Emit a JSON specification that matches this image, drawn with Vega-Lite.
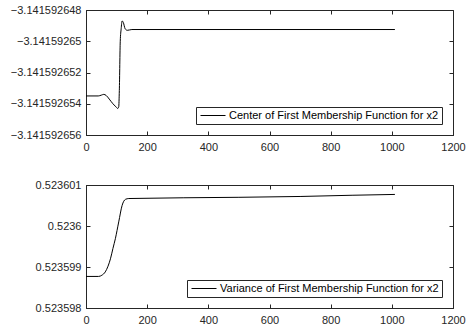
{
  "$schema": "https://vega.github.io/schema/vega-lite/v6.json",
  "padding": {"left": 9, "top": 3, "right": 5, "bottom": 5},
  "background": "white",
  "bounds": "flush",
  "spacing": 50,
  "datasets": {
    "top": [
      {"t": 0, "v": -3.1415926535, "s": "Center of First Membership Function for x2"},
      {"t": 40, "v": -3.1415926535, "s": "Center of First Membership Function for x2"},
      {"t": 50, "v": -3.14159265345, "s": "Center of First Membership Function for x2"},
      {"t": 58, "v": -3.1415926534, "s": "Center of First Membership Function for x2"},
      {"t": 66, "v": -3.14159265347, "s": "Center of First Membership Function for x2"},
      {"t": 76, "v": -3.1415926537, "s": "Center of First Membership Function for x2"},
      {"t": 88, "v": -3.141592654, "s": "Center of First Membership Function for x2"},
      {"t": 98, "v": -3.1415926542, "s": "Center of First Membership Function for x2"},
      {"t": 104, "v": -3.1415926543, "s": "Center of First Membership Function for x2"},
      {"t": 107, "v": -3.1415926542, "s": "Center of First Membership Function for x2"},
      {"t": 109, "v": -3.14159265315, "s": "Center of First Membership Function for x2"},
      {"t": 112, "v": -3.14159265, "s": "Center of First Membership Function for x2"},
      {"t": 115, "v": -3.1415926492, "s": "Center of First Membership Function for x2"},
      {"t": 118, "v": -3.1415926487, "s": "Center of First Membership Function for x2"},
      {"t": 122, "v": -3.1415926488, "s": "Center of First Membership Function for x2"},
      {"t": 128, "v": -3.1415926492, "s": "Center of First Membership Function for x2"},
      {"t": 135, "v": -3.1415926493, "s": "Center of First Membership Function for x2"},
      {"t": 150, "v": -3.14159264925, "s": "Center of First Membership Function for x2"},
      {"t": 1010, "v": -3.14159264925, "s": "Center of First Membership Function for x2"}
    ],
    "bottom": [
      {"t": 0, "v": 0.52359877, "s": "Variance of First Membership Function for x2"},
      {"t": 41, "v": 0.52359877, "s": "Variance of First Membership Function for x2"},
      {"t": 52, "v": 0.5235988, "s": "Variance of First Membership Function for x2"},
      {"t": 63, "v": 0.52359888, "s": "Variance of First Membership Function for x2"},
      {"t": 72, "v": 0.52359902, "s": "Variance of First Membership Function for x2"},
      {"t": 80, "v": 0.5235992, "s": "Variance of First Membership Function for x2"},
      {"t": 88, "v": 0.52359945, "s": "Variance of First Membership Function for x2"},
      {"t": 96, "v": 0.52359969, "s": "Variance of First Membership Function for x2"},
      {"t": 107, "v": 0.5236001, "s": "Variance of First Membership Function for x2"},
      {"t": 118, "v": 0.5236005, "s": "Variance of First Membership Function for x2"},
      {"t": 129, "v": 0.52360065, "s": "Variance of First Membership Function for x2"},
      {"t": 140, "v": 0.52360067, "s": "Variance of First Membership Function for x2"},
      {"t": 500, "v": 0.5236007, "s": "Variance of First Membership Function for x2"},
      {"t": 700, "v": 0.52360072, "s": "Variance of First Membership Function for x2"},
      {"t": 870, "v": 0.52360075, "s": "Variance of First Membership Function for x2"},
      {"t": 1010, "v": 0.52360077, "s": "Variance of First Membership Function for x2"}
    ]
  },
  "config": {
    "view": {"stroke": "#262626", "strokeWidth": 1},
    "font": "Liberation Sans",
    "axis": {
      "grid": false,
      "title": null,
      "domainColor": "#262626",
      "tickColor": "#262626",
      "tickWidth": 1,
      "labelColor": "#262626",
      "labelFont": "Liberation Sans",
      "labelFontSize": 11,
      "tickSize": 4,
      "labelOverlap": false,
      "labelFlush": false
    },
    "axisX": {"labelPadding": 6},
    "axisY": {"labelPadding": 5},
    "legend": {
      "orient": "bottom-right",
      "offset": 11,
      "title": null,
      "strokeColor": "#262626",
      "fillColor": "white",
      "padding": 3,
      "symbolType": "M-0.8,0L4.2,0",
      "symbolSize": 100,
      "symbolStrokeWidth": 1,
      "symbolStrokeColor": "black",
      "symbolFillColor": "transparent",
      "labelFont": "Liberation Sans",
      "labelFontSize": 11,
      "labelColor": "#000000",
      "labelOffset": 19,
      "labelLimit": 400
    }
  },
  "vconcat": [
    {
      "data": {"name": "top"},
      "width": 367,
      "height": 125,
      "layer": [
        {
          "mark": {"type": "line", "strokeWidth": 1, "interpolate": "monotone"},
          "encoding": {
            "x": {"field": "t", "type": "quantitative", "scale": {"domain": [0, 1200], "nice": false},
                  "axis": {"values": [0, 200, 400, 600, 800, 1000, 1200], "format": "d", "ticks": false}},
            "y": {"field": "v", "type": "quantitative", "scale": {"domain": [-3.141592656, -3.141592648], "zero": false, "nice": false},
                  "axis": {"values": [-3.141592656, -3.141592654, -3.141592652, -3.14159265, -3.141592648], "format": ".9~f", "ticks": false}},
            "color": {"field": "s", "type": "nominal", "scale": {"range": ["#000000"]}}
          }
        },
        {
          "mark": {"type": "line", "opacity": 0},
          "encoding": {
            "x": {"field": "t", "type": "quantitative", "scale": {"domain": [0, 1200], "nice": false},
                  "axis": {"orient": "top", "offset": -125, "labels": false, "domain": false, "values": [0, 200, 400, 600, 800, 1000, 1200]}},
            "y": {"field": "v", "type": "quantitative", "scale": {"domain": [-3.141592656, -3.141592648], "zero": false, "nice": false},
                  "axis": {"orient": "right", "offset": -367, "labels": false, "domain": false, "values": [-3.141592656, -3.141592654, -3.141592652, -3.14159265, -3.141592648]}}
          }
        },
        {
          "mark": {"type": "line", "opacity": 0},
          "encoding": {
            "x": {"field": "t", "type": "quantitative", "scale": {"domain": [0, 1200], "nice": false},
                  "axis": {"orient": "bottom", "offset": -125, "labels": false, "domain": false, "values": [0, 200, 400, 600, 800, 1000, 1200]}},
            "y": {"field": "v", "type": "quantitative", "scale": {"domain": [-3.141592656, -3.141592648], "zero": false, "nice": false},
                  "axis": {"orient": "left", "offset": -367, "labels": false, "domain": false, "values": [-3.141592656, -3.141592654, -3.141592652, -3.14159265, -3.141592648]}}
          }
        }
      ],
      "resolve": {"axis": {"x": "independent", "y": "independent"}}
    },
    {
      "data": {"name": "bottom"},
      "width": 367,
      "height": 123,
      "layer": [
        {
          "mark": {"type": "line", "strokeWidth": 1, "interpolate": "monotone"},
          "encoding": {
            "x": {"field": "t", "type": "quantitative", "scale": {"domain": [0, 1200], "nice": false},
                  "axis": {"values": [0, 200, 400, 600, 800, 1000, 1200], "format": "d", "ticks": false}},
            "y": {"field": "v", "type": "quantitative", "scale": {"domain": [0.523598, 0.523601], "zero": false, "nice": false},
                  "axis": {"values": [0.523598, 0.523599, 0.5236, 0.523601], "format": ".6~f", "ticks": false}},
            "color": {"field": "s", "type": "nominal", "scale": {"range": ["#000000"]}}
          }
        },
        {
          "mark": {"type": "line", "opacity": 0},
          "encoding": {
            "x": {"field": "t", "type": "quantitative", "scale": {"domain": [0, 1200], "nice": false},
                  "axis": {"orient": "top", "offset": -123, "labels": false, "domain": false, "values": [0, 200, 400, 600, 800, 1000, 1200]}},
            "y": {"field": "v", "type": "quantitative", "scale": {"domain": [0.523598, 0.523601], "zero": false, "nice": false},
                  "axis": {"orient": "right", "offset": -367, "labels": false, "domain": false, "values": [0.523598, 0.523599, 0.5236, 0.523601]}}
          }
        },
        {
          "mark": {"type": "line", "opacity": 0},
          "encoding": {
            "x": {"field": "t", "type": "quantitative", "scale": {"domain": [0, 1200], "nice": false},
                  "axis": {"orient": "bottom", "offset": -123, "labels": false, "domain": false, "values": [0, 200, 400, 600, 800, 1000, 1200]}},
            "y": {"field": "v", "type": "quantitative", "scale": {"domain": [0.523598, 0.523601], "zero": false, "nice": false},
                  "axis": {"orient": "left", "offset": -367, "labels": false, "domain": false, "values": [0.523598, 0.523599, 0.5236, 0.523601]}}
          }
        }
      ],
      "resolve": {"axis": {"x": "independent", "y": "independent"}}
    }
  ],
  "resolve": {"legend": {"color": "independent"}, "scale": {"color": "independent"}}
}
